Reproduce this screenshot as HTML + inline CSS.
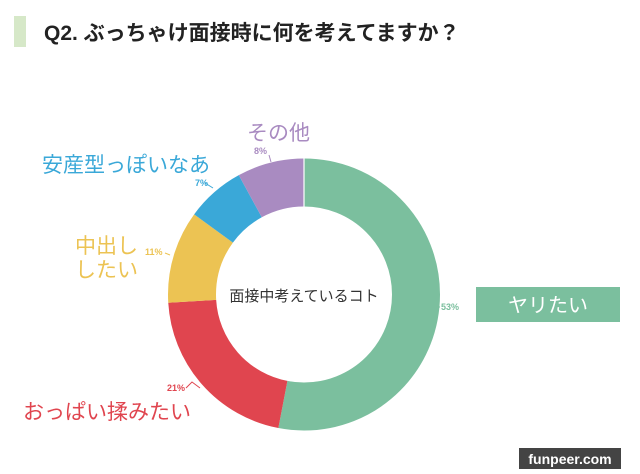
<!DOCTYPE html>
<html><head><meta charset="utf-8"><style>
html,body{margin:0;padding:0;background:#fff;}
body{width:640px;height:469px;overflow:hidden;font-family:"Liberation Sans","Noto Sans CJK JP",sans-serif;}
</style></head><body>
<svg width="640" height="469" viewBox="0 0 640 469" xmlns="http://www.w3.org/2000/svg" font-family="Liberation Sans, Noto Sans CJK JP, sans-serif">
<rect x="14" y="16" width="12" height="31" fill="#d6e8c8"/>
<text x="44" y="40" font-size="21" font-weight="bold" fill="#222">Q2. ぶっちゃけ面接時に何を考えてますか？</text>
<g transform="translate(304,294.5) rotate(-90)" fill="none" stroke-width="48">
<!-- circumference r=112: 703.72 -->
<circle r="112" stroke="#7bbf9e" stroke-dasharray="372.97 703.72" stroke-dashoffset="0"/>
<circle r="112" stroke="#e0454f" stroke-dasharray="147.78 703.72" stroke-dashoffset="-372.97"/>
<circle r="112" stroke="#ecc353" stroke-dasharray="77.41 703.72" stroke-dashoffset="-520.75"/>
<circle r="112" stroke="#3aa8d8" stroke-dasharray="49.26 703.72" stroke-dashoffset="-598.16"/>
<circle r="112" stroke="#a98bc1" stroke-dasharray="56.3 703.72" stroke-dashoffset="-647.42"/>
</g>
<g stroke="#fff" stroke-width="1.2">
<line x1="304" y1="158" x2="304" y2="207"/>
</g>
<text x="304" y="301" font-size="15" fill="#333" text-anchor="middle">面接中考えているコト</text>
<!-- leaders & percents -->
<g font-size="9" font-weight="bold">
<text x="441" y="310" fill="#7bbf9e">53%</text>
<text x="167" y="391" fill="#e0454f">21%</text>
<text x="145" y="255" fill="#ecc353">11%</text>
<text x="195" y="186" fill="#3aa8d8">7%</text>
<text x="254" y="154" fill="#a98bc1">8%</text>
</g>
<g fill="none" stroke-width="1">
<polyline points="440,307 438,307" stroke="#7bbf9e"/>
<polyline points="186,388 192,382 200,388" stroke="#e0454f"/>
<polyline points="165,253 170,255" stroke="#ecc353"/>
<polyline points="205,183 213,188" stroke="#3aa8d8"/>
<polyline points="269,155 271,162" stroke="#a98bc1"/>
</g>
<rect x="476" y="287" width="144" height="35" fill="#7bbf9e"/>
<text x="548" y="312" font-size="20" fill="#fff" text-anchor="middle">ヤリたい</text>
<text x="247" y="140" font-size="21" fill="#a98bc1">その他</text>
<text x="42" y="172" font-size="21" fill="#3aa8d8">安産型っぽいなあ</text>
<text x="75" y="253" font-size="21" fill="#ecc353">中出し</text>
<text x="75" y="277" font-size="21" fill="#ecc353">したい</text>
<text x="23" y="419" font-size="21" fill="#e0454f">おっぱい揉みたい</text>
<rect x="519" y="448" width="102" height="21" fill="#444"/>
<text x="570" y="464" font-size="14" font-weight="bold" fill="#fff" text-anchor="middle">funpeer.com</text>
</svg>
</body></html>
